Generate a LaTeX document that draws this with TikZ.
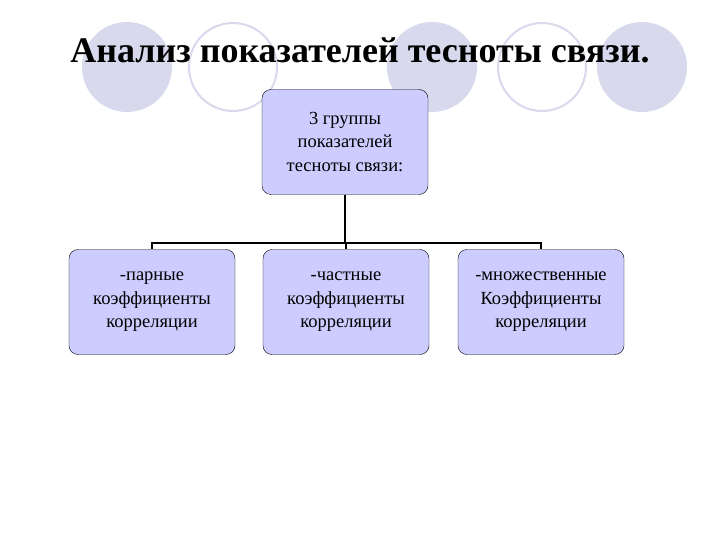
\documentclass[tikz,border=0pt]{standalone}
\usepackage{fontspec}
\setmainfont{Liberation Serif}
\begin{document}
\begin{tikzpicture}[x=1pt,y=-1pt]
\definecolor{circ}{HTML}{D9D9EE}
\definecolor{boxf}{HTML}{CCCCFF}
\tikzset{fc/.style={fill=circ,draw=none},
wc/.style={fill=white,draw=circ,line width=2pt},
bx/.style={draw=black,fill=boxf,rounded corners=9pt,minimum width=166pt,minimum height=105pt,align=center,font=\fontsize{18.5}{23.5}\selectfont,inner sep=2pt},
ln/.style={draw=black,line width=1.2pt}}
\useasboundingbox (0,0) rectangle (720,540);
\fill[white] (0,0) rectangle (720,540);
\fill[fc] (127,67) ellipse (45 and 45);
\draw[wc] (233,67) ellipse (44 and 44);
\fill[fc] (432,67) ellipse (45 and 45);
\draw[wc] (542,67) ellipse (44 and 44);
\fill[fc] (642,67) ellipse (45 and 45);
\node[font=\bfseries\fontsize{36}{40}\selectfont] (t) at (360,50) {Анализ показателей тесноты связи.};
\node[bx] (top) at (345,142) {3 группы\\показателей\\тесноты связи:};
\node[bx] (a) at (152,302) {-парные\\коэффициенты\\корреляции};
\node[bx] (b) at (346,302) {-частные\\коэффициенты\\корреляции};
\node[bx] (c) at (541,302) {-множественные\\Коэффициенты\\корреляции};
\coordinate (j) at (346,243);
\draw[ln] (top.south) -- (top.south |- j);
\draw[ln] (a.north) -- (a.north |- j) -- (c.north |- j) -- (c.north);
\draw[ln] (b.north) -- (b.north |- j);
\end{tikzpicture}
\end{document}
